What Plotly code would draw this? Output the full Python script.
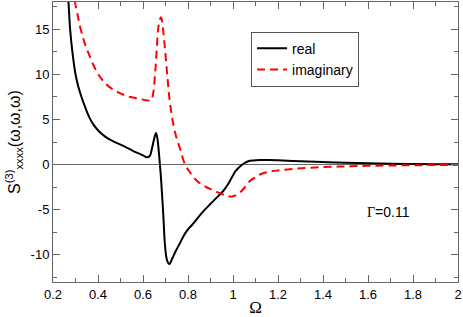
import plotly.graph_objects as go

# Real part
real_x = [0.262, 0.268, 0.276, 0.287, 0.30, 0.313, 0.327, 0.343, 0.361, 0.38, 0.401, 0.42,
          0.44, 0.47, 0.505, 0.557, 0.60, 0.617, 0.63, 0.64, 0.65, 0.658, 0.665, 0.672,
          0.68, 0.69, 0.698, 0.707, 0.717, 0.73, 0.745, 0.764, 0.79, 0.824, 0.86, 0.898,
          0.93, 0.957, 0.977, 0.994, 1.012, 1.031, 1.05, 1.068, 1.09, 1.12, 1.16, 1.2,
          1.3, 1.4, 1.5, 1.6, 1.7, 1.8, 1.9, 2.0]
real_y = [19.5, 18.2, 15.0, 12.3, 10.0, 8.6, 7.45, 6.35, 5.25, 4.42, 3.77, 3.32,
          2.95, 2.55, 2.15, 1.5, 1.02, 0.8, 0.95, 1.8, 2.9, 3.5, 2.7, 0.9,
          -1.5, -5.5, -9.0, -10.6, -11.0, -10.4, -9.6, -8.7, -7.5, -6.5, -5.4, -4.4,
          -3.6, -2.9, -2.2, -1.45, -0.7, -0.2, 0.15, 0.37, 0.46, 0.5, 0.5, 0.47,
          0.37, 0.28, 0.2, 0.14, 0.09, 0.06, 0.04, 0.03]

# Imaginary part
imag_x = [0.296, 0.31, 0.323, 0.34, 0.36, 0.38, 0.401, 0.425, 0.45, 0.49, 0.527, 0.58,
          0.62, 0.636, 0.646, 0.655, 0.661, 0.67, 0.68, 0.688, 0.698, 0.709, 0.72, 0.742,
          0.764, 0.787, 0.81, 0.839, 0.868, 0.898, 0.935, 0.972, 0.994, 1.012, 1.031, 1.053,
          1.076, 1.1, 1.12, 1.16, 1.2, 1.283, 1.4, 1.5, 1.6, 1.7, 1.8, 1.9, 2.0]
imag_y = [18.2, 16.5, 15.0, 13.5, 12.2, 11.0, 10.0, 9.2, 8.6, 8.0, 7.6, 7.3,
          7.1, 7.1, 8.0, 10.5, 12.7, 15.5, 16.3, 15.2, 12.7, 9.6, 6.8, 3.6,
          1.8, 0.0, -0.9, -1.8, -2.3, -2.7, -3.1, -3.45, -3.56, -3.4, -3.1, -2.5,
          -1.8, -1.4, -1.1, -0.8, -0.65, -0.45, -0.28, -0.2, -0.14, -0.1, -0.07, -0.05, -0.03]

x_ticks = [0.2, 0.4, 0.6, 0.8, 1.0, 1.2, 1.4, 1.6, 1.8, 2.0]
x_tick_labels = ["0.2", "0.4", "0.6", "0.8", "1", "1.2", "1.4", "1.6", "1.8", "2"]
y_ticks = [-10, -5, 0, 5, 10, 15]
y_tick_labels = ["-10", "-5", "0", "5", "10", "15"]

FONT = "Liberation Sans, Arial, sans-serif"

fig = go.Figure()
fig.add_trace(go.Scatter(x=real_x, y=real_y, mode="lines", name="real",
                         line=dict(color="black", width=2, shape="spline", smoothing=1.0)))
fig.add_trace(go.Scatter(x=imag_x, y=imag_y, mode="lines", name="imaginary",
                         line=dict(color="#ff0000", width=2, dash="8px,5px",
                                   shape="spline", smoothing=1.0)))

axis_common = dict(showline=True, linecolor="#666666", linewidth=1, mirror="ticks",
                   ticks="inside", ticklen=7, tickcolor="#666666", showgrid=False,
                   tickfont=dict(family=FONT, size=13, color="black"))

fig.update_xaxes(range=[0.2, 2.0], tickvals=x_ticks, ticktext=x_tick_labels,
                 minor=dict(dtick=0.1, ticks="inside", ticklen=4, tickcolor="#666666"),
                 zeroline=False,
                 title=dict(text="Ω", font=dict(family="Liberation Serif, Times New Roman, serif",
                                                size=17, color="black"), standoff=3),
                 **axis_common)
fig.update_yaxes(range=[-13, 18], tickvals=y_ticks, ticktext=y_tick_labels,
                 minor=dict(dtick=2.5, ticks="inside", ticklen=4, tickcolor="#666666"),
                 zeroline=True, zerolinecolor="#666666", zerolinewidth=1,
                 title=dict(text="S<sup>(3)</sup><sub>xxxx</sub>(ω,ω,ω)",
                            font=dict(family=FONT, size=16, color="black"), standoff=6),
                 **axis_common)

fig.add_annotation(x=1.69, y=-5.3, xref="x", yref="y", showarrow=False,
                   text="<span style='font-family:Liberation Serif'>Γ</span>=0.11",
                   font=dict(family=FONT, size=14, color="black"))

fig.update_layout(
    width=463, height=317,
    margin=dict(l=53, r=5, t=1, b=32),
    paper_bgcolor="white", plot_bgcolor="white",
    showlegend=True,
    legend=dict(x=0.489, y=0.894, xanchor="left", yanchor="top",
                bgcolor="white", bordercolor="#555555", borderwidth=1,
                font=dict(family=FONT, size=14, color="black"),
                itemwidth=30, tracegroupgap=0),
)

fig.write_html("out.html", config={"displayModeBar": False},
               post_script="document.body.style.margin='0px';document.body.style.overflow='hidden';")
